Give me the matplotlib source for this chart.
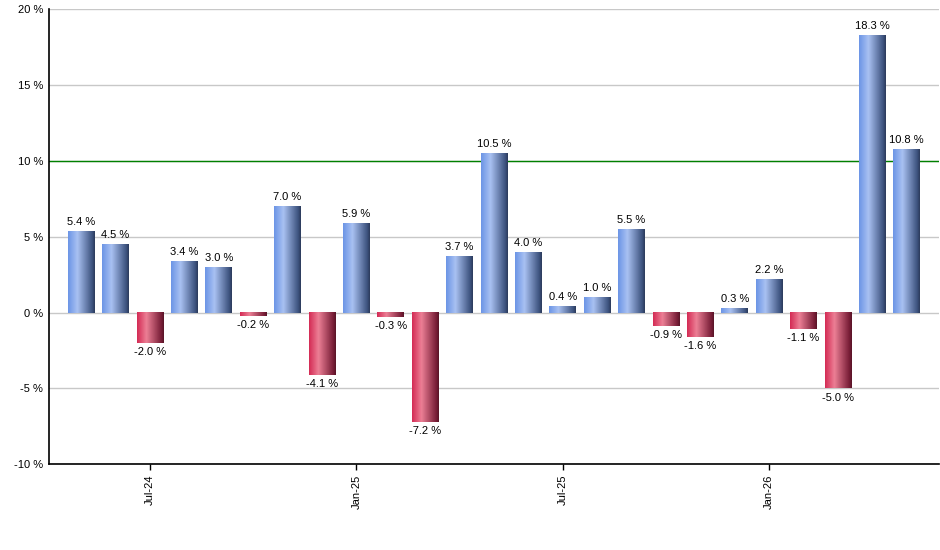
import numpy as np
import matplotlib
matplotlib.use("Agg")
import matplotlib.pyplot as plt
from matplotlib.colors import LinearSegmentedColormap

plt.rcParams["font.family"] = ["Liberation Sans", "DejaVu Sans"]

# monthly returns, May-24 .. May-26
values = [5.4, 4.5, -2.0, 3.4, 3.0, -0.2, 7.0, -4.1, 5.9, -0.3, -7.2, 3.7,
          10.5, 4.0, 0.4, 1.0, 5.5, -0.9, -1.6, 0.3, 2.2, -1.1, -5.0, 18.3, 10.8]
tick_idx = [2, 8, 14, 20]
tick_labels = ["Jul-24", "Jan-25", "Jul-25", "Jan-26"]
target = 10

blue = LinearSegmentedColormap.from_list(
    "b", [(0, "#6c95e6"), (0.35, "#a9c1f2"), (0.9, "#3e5480"), (1, "#2c3b5c")])
red = LinearSegmentedColormap.from_list(
    "r", [(0, "#d42c55"), (0.35, "#ec7f95"), (0.9, "#7a1f38"), (1, "#5a1428")])

fig = plt.figure(figsize=(9.4, 5.5), dpi=100)
ax = fig.add_axes([0.052, 0.156, 0.947, 0.827])

x = np.arange(len(values))
w = 0.78
grad = np.linspace(0, 1, 64).reshape(1, -1)
for xi, v in zip(x, values):
    cmap = blue if v >= 0 else red
    ax.imshow(grad, cmap=cmap, aspect="auto", interpolation="bilinear",
              extent=(xi - w / 2, xi + w / 2, 0, v), zorder=3)
    if v >= 0:
        ax.annotate(f"{v:.1f} %", (xi, v), xytext=(0, 3), textcoords="offset points",
                    ha="center", va="bottom", fontsize=8, zorder=4)
    else:
        ax.annotate(f"{v:.1f} %", (xi, v), xytext=(0, -3), textcoords="offset points",
                    ha="center", va="top", fontsize=8, zorder=4)

ax.axhline(target, color="green", lw=1, zorder=2)

ax.set_xlim(-0.94, len(values) - 0.06)
ax.set_ylim(-10, 20)
ax.set_yticks(np.arange(-10, 21, 5))
ax.set_yticklabels([f"{t} %" for t in range(-10, 21, 5)], fontsize=8)
ax.yaxis.grid(True, color="#c8c8c8", lw=1, zorder=0)
ax.tick_params(axis="y", length=0, pad=4)
ax.set_xticks(tick_idx)
ax.set_xticklabels(tick_labels, rotation=90, fontsize=8)
ax.tick_params(axis="x", length=4, width=1, color="black")

for s in ["top", "right"]:
    ax.spines[s].set_visible(False)
for s in ["left", "bottom"]:
    ax.spines[s].set_linewidth(1.2)
ax.set_axisbelow(True)

fig.savefig("out.png", dpi=100)
